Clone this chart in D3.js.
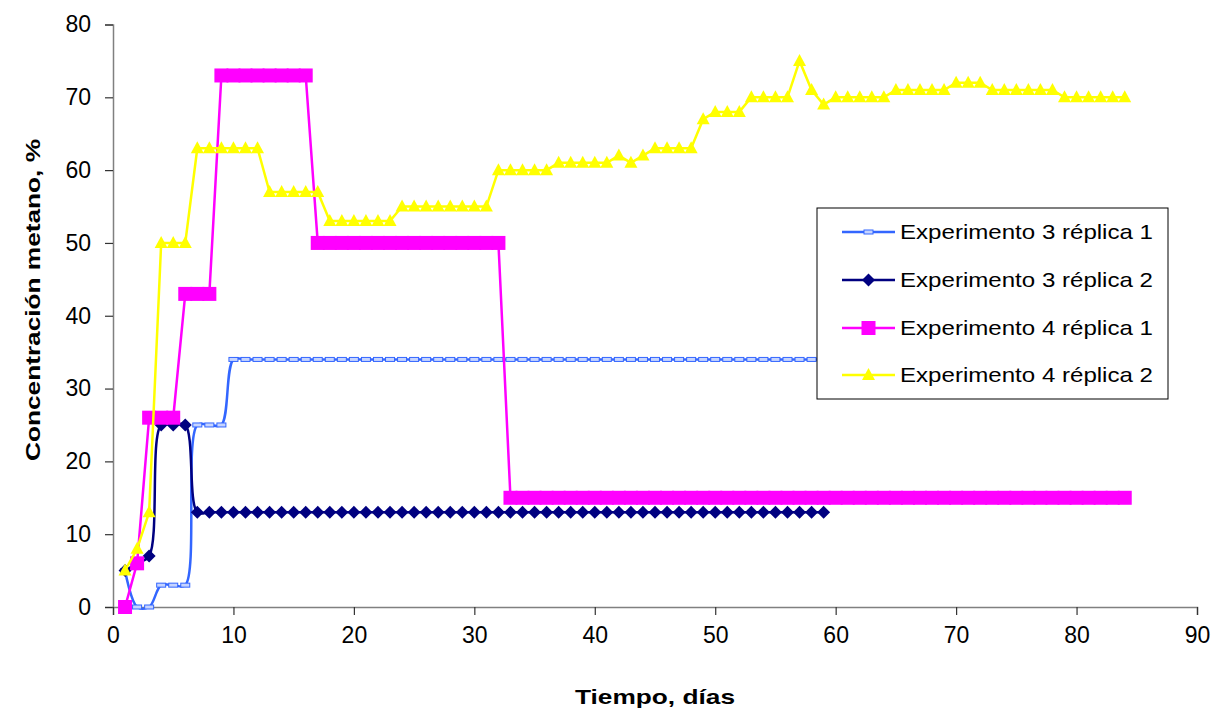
<!DOCTYPE html>
<html>
<head>
    <meta charset="utf-8">
    <title>Concentración metano</title>
    <script src="https://cdn.jsdelivr.net/npm/d3@7"></script>
    <style>
        body { margin: 0; background: #fff; }
        text { font-family: Arial, "Liberation Sans", sans-serif; }
    </style>
</head>
<body>
    <svg width="1215" height="711" id="mainsvg"></svg>
    <script>
        // days (x) and values for each series
        const days = [1, 2, 3, 4, 5, 6, 7, 8, 9, 10, 11, 12, 13, 14, 15, 16, 17, 18, 19, 20,
            21, 22, 23, 24, 25, 26, 27, 28, 29, 30, 31, 32, 33, 34, 35, 36, 37, 38, 39, 40,
            41, 42, 43, 44, 45, 46, 47, 48, 49, 50, 51, 52, 53, 54, 55, 56, 57, 58, 59, 60,
            61, 62, 63, 64, 65, 66, 67, 68, 69, 70, 71, 72, 73, 74, 75, 76, 77, 78, 79, 80,
            81, 82, 83, 84];

        const exp3rep1 = [5, 0, 0, 3, 3, 3, 25, 25, 25, 34,
            34, 34, 34, 34, 34, 34, 34, 34, 34, 34,
            34, 34, 34, 34, 34, 34, 34, 34, 34, 34,
            34, 34, 34, 34, 34, 34, 34, 34, 34, 34,
            34, 34, 34, 34, 34, 34, 34, 34, 34, 34,
            34, 34, 34, 34, 34, 34, 34, 34, 34];

        const exp3rep2 = [5, 6, 7, 25, 25, 25, 13, 13, 13, 13,
            13, 13, 13, 13, 13, 13, 13, 13, 13, 13,
            13, 13, 13, 13, 13, 13, 13, 13, 13, 13,
            13, 13, 13, 13, 13, 13, 13, 13, 13, 13,
            13, 13, 13, 13, 13, 13, 13, 13, 13, 13,
            13, 13, 13, 13, 13, 13, 13, 13, 13];

        const exp4rep1 = [0, 6, 26, 26, 26, 43, 43, 43, 73, 73,
            73, 73, 73, 73, 73, 73, 50, 50, 50, 50,
            50, 50, 50, 50, 50, 50, 50, 50, 50, 50,
            50, 50, 15, 15, 15, 15, 15, 15, 15, 15,
            15, 15, 15, 15, 15, 15, 15, 15, 15, 15,
            15, 15, 15, 15, 15, 15, 15, 15, 15, 15,
            15, 15, 15, 15, 15, 15, 15, 15, 15, 15,
            15, 15, 15, 15, 15, 15, 15, 15, 15, 15,
            15, 15, 15, 15];

        const exp4rep2 = [5, 8, 13, 50, 50, 50, 63, 63, 63, 63,
            63, 63, 57, 57, 57, 57, 57, 53, 53, 53,
            53, 53, 53, 55, 55, 55, 55, 55, 55, 55,
            55, 60, 60, 60, 60, 60, 61, 61, 61, 61,
            61, 62, 61, 62, 63, 63, 63, 63, 67, 68,
            68, 68, 70, 70, 70, 70, 75, 71, 69, 70,
            70, 70, 70, 70, 71, 71, 71, 71, 71, 72,
            72, 72, 71, 71, 71, 71, 71, 71, 70, 70,
            70, 70, 70, 70];

        const seriesNames = ["Experimento 3 réplica 1", "Experimento 3 réplica 2",
            "Experimento 4 réplica 1", "Experimento 4 réplica 2"];
        const xTicks = [0, 10, 20, 30, 40, 50, 60, 70, 80, 90];
        const yTicks = [0, 10, 20, 30, 40, 50, 60, 70, 80];

        const svg = d3.select('svg');
        const width = +svg.attr('width');
        const height = +svg.attr('height');
        const margin = { left: 113, right: 18, top: 24.5, bottom: 104 };

        const x = d3.scaleLinear().domain([0, 90]).range([margin.left, width - margin.right]);
        const y = d3.scaleLinear().domain([0, 80]).range([height - margin.bottom, margin.top]);

        const series = [
            { name: seriesNames[0], values: exp3rep1, color: '#3366ff', marker: 'dash', curve: d3.curveCatmullRom, lw: 2.5 },
            { name: seriesNames[1], values: exp3rep2, color: '#000080', marker: 'diamond', curve: d3.curveCatmullRom, lw: 2.5 },
            { name: seriesNames[2], values: exp4rep1, color: '#ff00ff', marker: 'square', curve: d3.curveLinear, lw: 2.5 },
            { name: seriesNames[3], values: exp4rep2, color: '#ffff00', marker: 'triangle', curve: d3.curveLinear, lw: 2.5 }
        ];
        series.forEach(s => { s.points = s.values.map((v, i) => ({ day: days[i], value: v })); });

        const drawMarker = (g, type, color) => {
            if (type === 'dash') {
                g.append('rect').attr('x', -4.5).attr('y', -2).attr('width', 9).attr('height', 4)
                    .attr('fill', '#c6d4ff').attr('stroke', color).attr('stroke-width', 1);
            } else if (type === 'diamond') {
                g.append('path').attr('d', 'M0,-6.5L6.5,0L0,6.5L-6.5,0Z').attr('fill', color);
            } else if (type === 'square') {
                g.append('rect').attr('x', -7).attr('y', -7).attr('width', 14).attr('height', 14).attr('fill', color);
            } else {
                g.append('path').attr('d', 'M0,-7L6.5,5L-6.5,5Z').attr('fill', color);
            }
        };

        // axes
        const yAxis = svg.append('g').attr('transform', `translate(${margin.left},0)`)
            .call(d3.axisLeft(y).tickValues(yTicks).tickSize(8).tickPadding(14));
        const xAxis = svg.append('g').attr('transform', `translate(0,${y(0)})`)
            .call(d3.axisBottom(x).tickValues(xTicks).tickSize(8).tickPadding(12));
        [xAxis, yAxis].forEach(a => {
            a.select('.domain').attr('stroke', '#808080').attr('stroke-width', 1.5);
            a.selectAll('.tick line').attr('stroke', '#333').attr('stroke-width', 1.2);
            a.selectAll('.tick text').attr('font-size', 23).attr('fill', '#000')
                .attr('font-family', 'Arial, "Liberation Sans", sans-serif');
        });

        // lines and markers
        series.forEach(s => {
            const line = d3.line().x(d => x(d.day)).y(d => y(d.value)).curve(s.curve);
            svg.append('path').datum(s.points).attr('d', line)
                .attr('fill', 'none').attr('stroke', s.color).attr('stroke-width', s.lw);
            svg.append('g').selectAll('g').data(s.points).join('g')
                .attr('transform', d => `translate(${x(d.day)},${y(d.value)})`)
                .each(function () { drawMarker(d3.select(this), s.marker, s.color); });
        });

        // axis titles
        svg.append('text').attr('x', (margin.left + width - margin.right) / 2).attr('y', 704)
            .attr('text-anchor', 'middle').attr('font-size', 21).attr('font-weight', 'bold')
            .attr('textLength', 160).attr('lengthAdjust', 'spacingAndGlyphs')
            .text('Tiempo, días');
        svg.append('text').attr('transform', 'translate(40,300) rotate(-90)')
            .attr('text-anchor', 'middle').attr('font-size', 21).attr('font-weight', 'bold')
            .attr('textLength', 322).attr('lengthAdjust', 'spacingAndGlyphs')
            .text('Concentración metano, %');

        // legend
        const legend = svg.append('g').attr('transform', 'translate(817,208)');
        legend.append('rect').attr('width', 351).attr('height', 191)
            .attr('fill', '#fff').attr('stroke', '#000').attr('stroke-width', 1);
        const rowY = [24, 72, 120, 167];
        series.forEach((s, i) => {
            const row = legend.append('g').attr('transform', `translate(0,${rowY[i]})`);
            row.append('line').attr('x1', 25).attr('x2', 78).attr('stroke', s.color).attr('stroke-width', s.lw);
            drawMarker(row.append('g').attr('transform', 'translate(51.5,0)'), s.marker, s.color);
            row.append('text').attr('x', 83).attr('dy', '0.35em').attr('font-size', 21)
                .attr('textLength', 253).attr('lengthAdjust', 'spacingAndGlyphs')
                .text(s.name);
        });
    </script>
</body>
</html>
